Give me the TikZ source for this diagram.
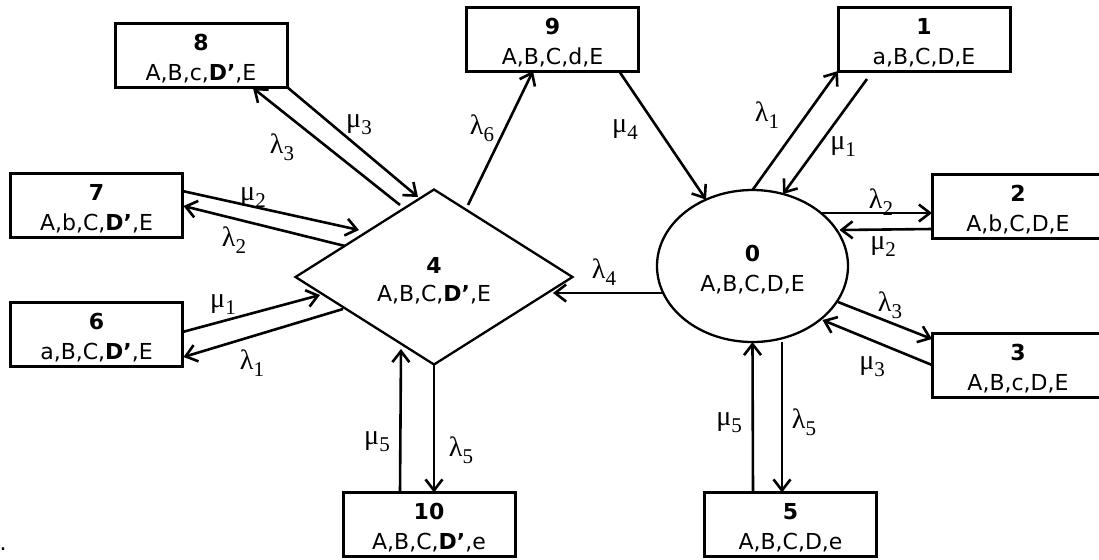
\documentclass[tikz,border=0pt]{standalone}
\usepackage{fontspec}
\setmainfont{DejaVu Sans}
\newfontfamily\grk{Liberation Serif}
\usetikzlibrary{shapes.geometric,arrows.meta,calc}
\newcommand{\glab}[2]{{\grk\fontsize{14}{15}\selectfont #1\raisebox{-3.5pt}{\fontsize{10.5}{11}\selectfont #2}}}
\newcommand{\toprule}[1]{\rule{0pt}{#1}}
\begin{document}
\begin{tikzpicture}[x=0.5pt,y=-0.5pt,
  stbox/.style={draw,line width=1.5pt,rectangle,minimum width=86pt,minimum height=32pt,inner sep=0pt,outer sep=0pt,align=center,font=\fontsize{11}{15}\selectfont},
  stdia/.style={draw,line width=1.15pt,diamond,minimum width=138.5pt,minimum height=87.5pt,inner sep=0pt,outer sep=0pt,align=center,font=\fontsize{11}{14}\selectfont},
  stell/.style={draw,line width=1.15pt,ellipse,minimum width=95.5pt,minimum height=76pt,inner sep=0pt,outer sep=0pt,align=center,font=\fontsize{11}{15}\selectfont},
  arr/.style={line width=1.3pt,-{Straight Barb[length=5.5pt,width=8.5pt]}},
  lab/.style={inner sep=0pt}]
\useasboundingbox (0,0) rectangle (1099,559);
\clip (0,0) rectangle (1099,559);
% nodes
\node[stbox] (b8) at (201,55) {\toprule{11.5pt}\textbf{8}\\A,B,c,\textbf{D’},E};
\node[stbox] (b9) at (552.5,39) {\toprule{11.5pt}\textbf{9}\\A,B,C,d,E};
\node[stbox] (b1) at (924,39) {\toprule{11.5pt}\textbf{1}\\a,B,C,D,E};
\node[stbox] (b7) at (96.5,205.5) {\toprule{11.5pt}\textbf{7}\\A,b,C,\textbf{D’},E};
\node[stbox] (b6) at (96.5,334) {\toprule{11.5pt}\textbf{6}\\a,B,C,\textbf{D’},E};
\node[stbox] (b2) at (1018,206) {\toprule{11.5pt}\textbf{2}\\A,b,C,D,E};
\node[stbox] (b3) at (1018,365) {\toprule{11.5pt}\textbf{3}\\A,B,c,D,E};
\node[stbox] (b10) at (429,524.5) {\toprule{11.5pt}\textbf{10}\\A,B,C,\textbf{D’},e};
\node[stbox] (b5) at (790.5,524.5) {\toprule{11.5pt}\textbf{5}\\A,B,C,D,e};
\node[stdia] (d4) at (434,277) {\toprule{12pt}\textbf{4}\\A,B,C,\textbf{D’},E};
\node[stell] (e0) at (752.5,266) {\toprule{12pt}\textbf{0}\\A,B,C,D,E};
\node[lab,font=\fontsize{11}{12}\selectfont] (dot) at (3,549) {.};
% connectors around 4
\draw[arr] ($(d4.center)+(-34,-72)$) -- ($(b8.center)+(52,33)$);
\draw[arr] (b8.south east) -- ($(d4.center)+(-16,-80)$);
\draw[arr] ($(b7.east)+(0,-14.5)$) -- ($(d4.center)+(-75,-47)$);
\draw[arr] ($(d4.center)+(-89,-31)$) -- ($(b7.east)+(1,0.5)$);
\draw[arr] ($(b6.east)+(0,-2)$) -- ($(d4.center)+(-114,18)$);
\draw[arr] ($(d4.center)+(-91,32)$) -- ($(b6.east)+(1,23)$);
\draw[arr] ($(b10.north)+(-29,0)$) -- ($(d4.center)+(-33,72)$);
\draw[arr] (d4.south) -- (d4.south |- b10.north);
\draw[arr] ($(d4.center)+(34,-72)$) -- ($(b9.south)+(-19.5,0)$);
% connectors around 0
\draw[arr] ($(b9.south)+(66.5,0)$) -- (e0.125);
\draw[arr] (e0.north) -- (b1.south west);
\draw[arr] ($(b1.south west)+(29,8)$) -- (e0.67);
\draw[arr] ($(e0.center)+(69,-53)$) -- ($(b2.west)+(0,7)$);
\draw[arr] ($(b2.west)+(0,23)$) -- ($(e0.center)+(87,-36)$);
\draw[arr] ($(e0.center)+(85.5,36)$) -- ($(b3.west)+(0,-26)$);
\draw[arr] (b3.west) -- ($(e0.center)+(70,54)$);
\draw[arr] ($(e0.center)+(-88.5,27)$) -- ($(d4.center)+(119,16)$);
\draw[arr] ($(e0.center)+(29.5,76)$) -- ($(b5.north)+(-8.5,0)$);
\draw[arr] ($(b5.north)+(-37.5,0)$) -- (e0.south);
% labels
\node[lab] (l83) at (282,147) {\glab{λ}{3}};
\node[lab] (m83) at (359,125) {\glab{μ}{3}};
\node[lab] (l6) at (482,128) {\glab{λ}{6}};
\node[lab] (m4) at (625,130) {\glab{μ}{4}};
\node[lab] (l1) at (767,115) {\glab{λ}{1}};
\node[lab] (m1) at (843,147) {\glab{μ}{1}};
\node[lab] (m72) at (253,198) {\glab{μ}{2}};
\node[lab] (l72) at (234,240) {\glab{λ}{2}};
\node[lab] (l2) at (881,202) {\glab{λ}{2}};
\node[lab] (m2) at (883,247) {\glab{μ}{2}};
\node[lab] (l4) at (604,272) {\glab{λ}{4}};
\node[lab] (l3) at (890,305) {\glab{λ}{3}};
\node[lab] (m3) at (872,367) {\glab{μ}{3}};
\node[lab] (m5) at (729,423) {\glab{μ}{5}};
\node[lab] (l5) at (804,422) {\glab{λ}{5}};
\node[lab] (m61) at (223,305) {\glab{μ}{1}};
\node[lab] (l61) at (252,363) {\glab{λ}{1}};
\node[lab] (m105) at (377,442) {\glab{μ}{5}};
\node[lab] (l105) at (461,450) {\glab{λ}{5}};
\end{tikzpicture}
\end{document}
